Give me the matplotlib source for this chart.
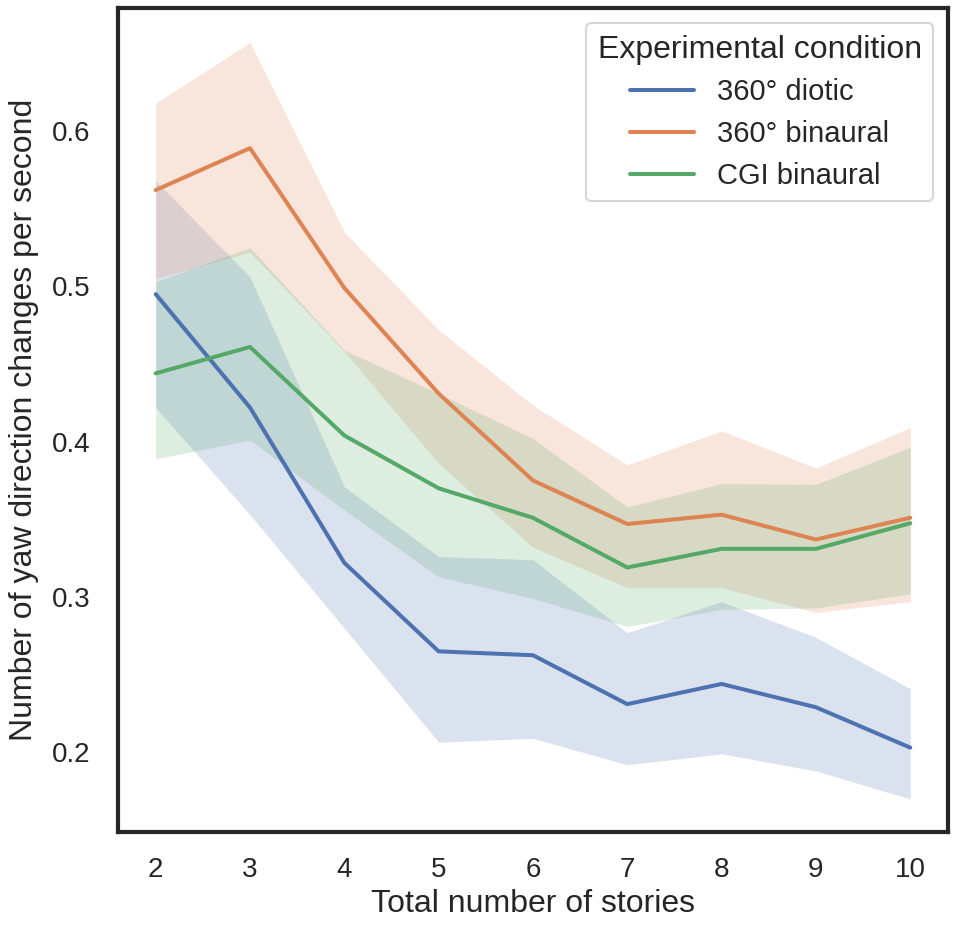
import numpy as np
import matplotlib
matplotlib.use("Agg")
import matplotlib.pyplot as plt
import seaborn as sns

# number of stories on x
stories = [2, 3, 4, 5, 6, 7, 8, 9, 10]

conditions = ["360° diotic", "360° binaural", "CGI binaural"]

diotic_mean = [0.495, 0.422, 0.322, 0.265, 0.2625, 0.231, 0.244, 0.229, 0.203]
diotic_low = [0.422, 0.353, 0.280, 0.2065, 0.209, 0.192, 0.199, 0.188, 0.170]
diotic_high = [0.568, 0.506, 0.371, 0.326, 0.324, 0.277, 0.297, 0.274, 0.241]

binaural_mean = [0.562, 0.589, 0.499, 0.431, 0.375, 0.347, 0.353, 0.337, 0.351]
binaural_low = [0.505, 0.522, 0.458, 0.386, 0.332, 0.306, 0.306, 0.290, 0.297]
binaural_high = [0.618, 0.657, 0.535, 0.472, 0.4235, 0.385, 0.407, 0.383, 0.409]

cgi_mean = [0.444, 0.461, 0.404, 0.370, 0.351, 0.319, 0.331, 0.331, 0.3475]
cgi_low = [0.389, 0.401, 0.356, 0.313, 0.299, 0.281, 0.292, 0.293, 0.302]
cgi_high = [0.503, 0.525, 0.459, 0.431, 0.402, 0.358, 0.373, 0.3725, 0.3965]

sns.set_style("white")
plt.rcParams['font.family'] = ['Liberation Sans', 'DejaVu Sans']

colors = sns.color_palette("deep")[:3]
dark = "#262626"

fig = plt.figure(figsize=(9.59, 9.32), dpi=100)
ax = fig.add_axes([0.123, 0.107, 0.8655, 0.884])

series = [
    (diotic_mean, diotic_low, diotic_high),
    (binaural_mean, binaural_low, binaural_high),
    (cgi_mean, cgi_low, cgi_high),
]
for (m, lo, hi), name, c in zip(series, conditions, colors):
    ax.fill_between(stories, lo, hi, color=c, alpha=0.2, linewidth=0)
    ax.plot(stories, m, color=c, lw=2.9, label=name)

ax.set_xlim(1.6, 10.4)
ax.set_ylim(0.1485, 0.679)
ax.set_xticks(stories)
ax.set_yticks([0.2, 0.3, 0.4, 0.5, 0.6])
ax.set_yticklabels(["0.2", "0.3", "0.4", "0.5", "0.6"])
ax.tick_params(labelsize=20, colors=dark, length=0)
ax.tick_params(axis="x", pad=18)
ax.tick_params(axis="y", pad=20)

ax.set_xlabel("Total number of stories", fontsize=23, color=dark, labelpad=4)
ax.set_ylabel("Number of yaw direction changes per second", fontsize=23, color=dark, labelpad=9)

for s in ax.spines.values():
    s.set_linewidth(3)
    s.set_color(dark)

leg = ax.legend(title="Experimental condition", loc="upper right", fontsize=21,
                title_fontsize=23, frameon=True, handlelength=2.2,
                borderpad=0.4, labelspacing=0.47, handletextpad=0.8)
leg.get_frame().set_edgecolor("#cccccc")
leg.get_frame().set_linewidth(1.5)
leg.get_title().set_color(dark)
for t in leg.get_texts():
    t.set_color(dark)
for l in leg.get_lines():
    l.set_linewidth(2.9)

fig.savefig("out.png", dpi=100)
